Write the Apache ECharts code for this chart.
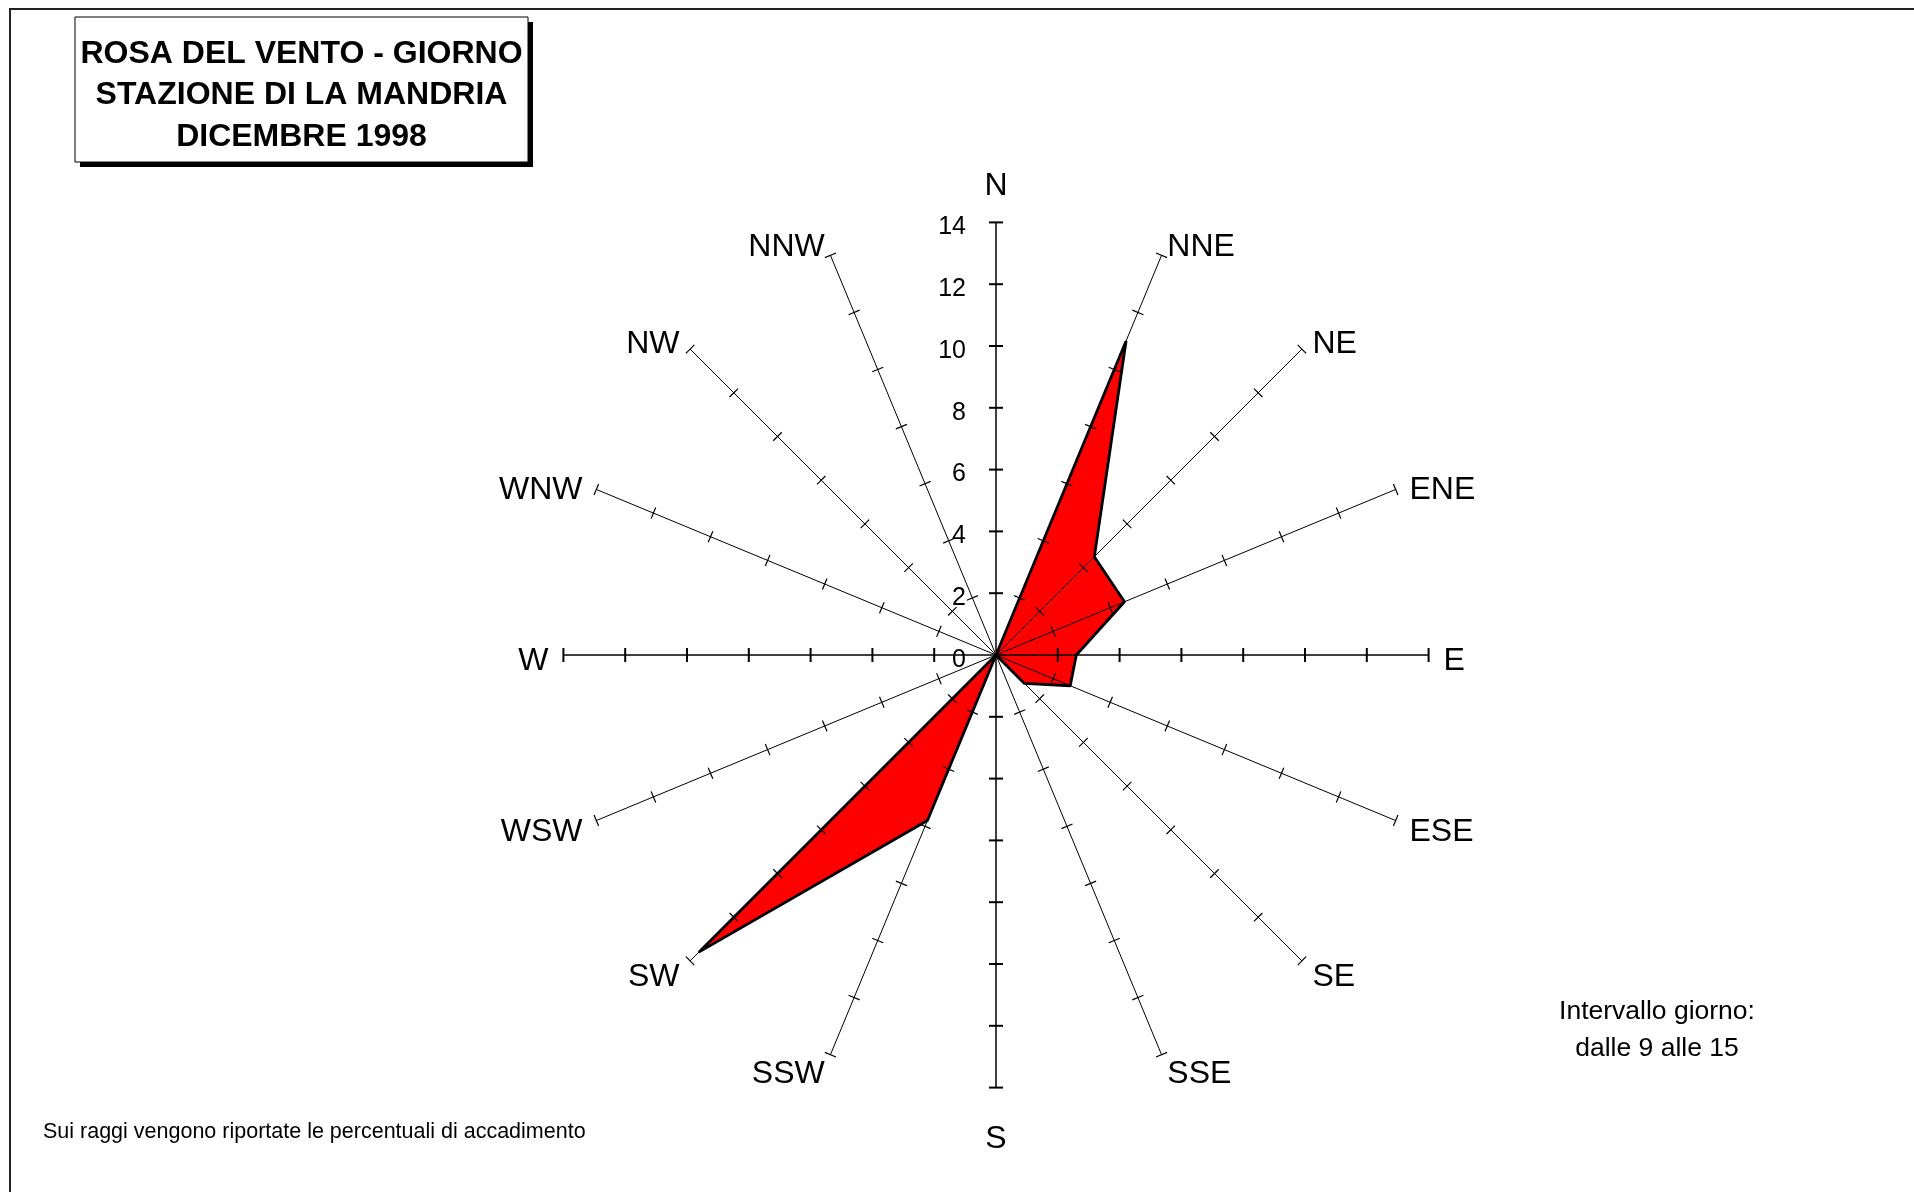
<!DOCTYPE html>
<html>
<head>
<meta charset="utf-8">
<script src="https://cdn.jsdelivr.net/npm/echarts@6/dist/echarts.min.js"></script>
<style>
html,body{margin:0;padding:0;background:#fff;}
#chart{width:1914px;height:1192px;}
</style>
</head>
<body>
<div id="chart"></div>
<script>
// ---- data ----
const directions = ['N','NNE','NE','ENE','E','ESE','SE','SSE','S','SSW','SW','WSW','W','WNW','NW','NNW'];
const frequencies = [0, 11.0, 4.5, 4.5, 2.6, 2.6, 1.3, 0, 0, 5.8, 13.6, 0, 0, 0, 0, 0];
const radiusTicks = [0, 2, 4, 6, 8, 10, 12, 14];
const tickLabels = ['0', '2', '4', '6', '8', '10', '12', '14'];
const titleLines = ['ROSA DEL VENTO - GIORNO', 'STAZIONE DI LA MANDRIA', 'DICEMBRE 1998'];
const noteText = 'Sui raggi vengono riportate le percentuali di accadimento';
const intervalLines = ['Intervallo giorno:', 'dalle 9 alle 15'];

const FONT = '"Liberation Sans", Arial, Helvetica, sans-serif';
const rMax = radiusTicks[radiusTicks.length - 1];

const chart = echarts.init(document.getElementById('chart'), null, {renderer: 'canvas'});

const lineData = directions.map((d, i) => [frequencies[i], d]);
lineData.push([frequencies[0], directions[0]]);

const spokeData = directions.map((d, i) => [rMax, i]);

function renderSpoke(params, api) {
  const idx = api.value(1);
  const c = api.coord([0, idx]);
  const e = api.coord([rMax, idx]);
  const dx = e[0] - c[0], dy = e[1] - c[1];
  const len = Math.sqrt(dx * dx + dy * dy);
  const ux = dx / len, uy = dy / len;
  const nx = -uy, ny = ux;
  const cardinal = idx % 4 === 0;
  const children = [];
  children.push({
    type: 'line',
    shape: {x1: c[0], y1: c[1], x2: e[0], y2: e[1]},
    style: {stroke: '#000', lineWidth: cardinal ? 1.5 : 1}
  });
  const half = cardinal ? 7 : 6;
  radiusTicks.forEach((r, k) => {
    const p = api.coord([r, idx]);
    if (r !== 0) {
      children.push({
        type: 'line',
        shape: {x1: p[0] - nx * half, y1: p[1] - ny * half, x2: p[0] + nx * half, y2: p[1] + ny * half},
        style: {stroke: '#000', lineWidth: cardinal ? 2 : 1.2}
      });
    }
    if (idx === 0) {
      children.push({
        type: 'text',
        x: p[0] - 30,
        y: p[1] + 5,
        z2: 10,
        style: {
          text: tickLabels[k],
          fill: '#000',
          font: '25px ' + FONT,
          align: 'right',
          verticalAlign: 'middle'
        }
      });
    }
  });
  // direction label
  let align, margin;
  if (Math.abs(ux) < 0.05) {
    align = 'center';
    margin = uy < 0 ? 42 : 46;
  } else {
    align = ux > 0 ? 'left' : 'right';
    margin = 15;
  }
  children.push({
    type: 'text',
    x: e[0] + ux * margin,
    y: e[1] + uy * margin + 6,
    style: {
      text: directions[idx],
      fill: '#000',
      font: '32px ' + FONT,
      align: align,
      verticalAlign: 'middle'
    }
  });
  return {type: 'group', children: children};
}

const option = {
  animation: false,
  backgroundColor: '#fff',
  polar: {center: [996, 655], radius: 432.6},
  angleAxis: {
    type: 'category',
    data: directions,
    boundaryGap: false,
    startAngle: 90,
    clockwise: true,
    axisLine: {show: false},
    axisTick: {show: false},
    axisLabel: {show: false},
    splitLine: {show: false}
  },
  radiusAxis: {
    type: 'value',
    min: 0,
    max: rMax,
    interval: 2,
    axisLine: {show: false},
    axisTick: {show: false},
    splitLine: {show: false},
    axisLabel: {show: false}
  },
  series: [
    {
      type: 'line',
      coordinateSystem: 'polar',
      data: lineData,
      symbol: 'none',
      lineStyle: {color: '#000', width: 2.8},
      areaStyle: {color: '#ff0000', opacity: 1},
      z: 2,
      silent: true
    },
    {
      type: 'custom',
      coordinateSystem: 'polar',
      data: spokeData,
      renderItem: renderSpoke,
      z: 3,
      silent: true
    }
  ],
  graphic: [
    {
      type: 'rect', z: 0,
      shape: {x: 10, y: 9, width: 1950, height: 1250},
      style: {fill: 'none', stroke: '#222', lineWidth: 2}
    },
    {
      type: 'rect', z: 10,
      shape: {x: 80, y: 22, width: 453, height: 145},
      style: {fill: '#000'}
    },
    {
      type: 'rect', z: 11,
      shape: {x: 75, y: 17, width: 453, height: 145},
      style: {fill: '#fff', stroke: '#000', lineWidth: 1}
    },
    {
      type: 'text', z: 12,
      x: 301.5, y: 95.5,
      style: {
        text: titleLines.join('\n'),
        font: 'bold 32px ' + FONT,
        fill: '#000',
        align: 'center',
        verticalAlign: 'middle',
        lineHeight: 41.5
      }
    },
    {
      type: 'text', z: 12,
      x: 43, y: 1132,
      style: {
        text: noteText,
        font: '21.5px ' + FONT,
        fill: '#000',
        align: 'left',
        verticalAlign: 'middle'
      }
    },
    {
      type: 'text', z: 12,
      x: 1657, y: 1030,
      style: {
        text: intervalLines.join('\n'),
        font: '26.5px ' + FONT,
        fill: '#000',
        align: 'center',
        verticalAlign: 'middle',
        lineHeight: 37
      }
    }
  ]
};

chart.setOption(option);
</script>
</body>
</html>
